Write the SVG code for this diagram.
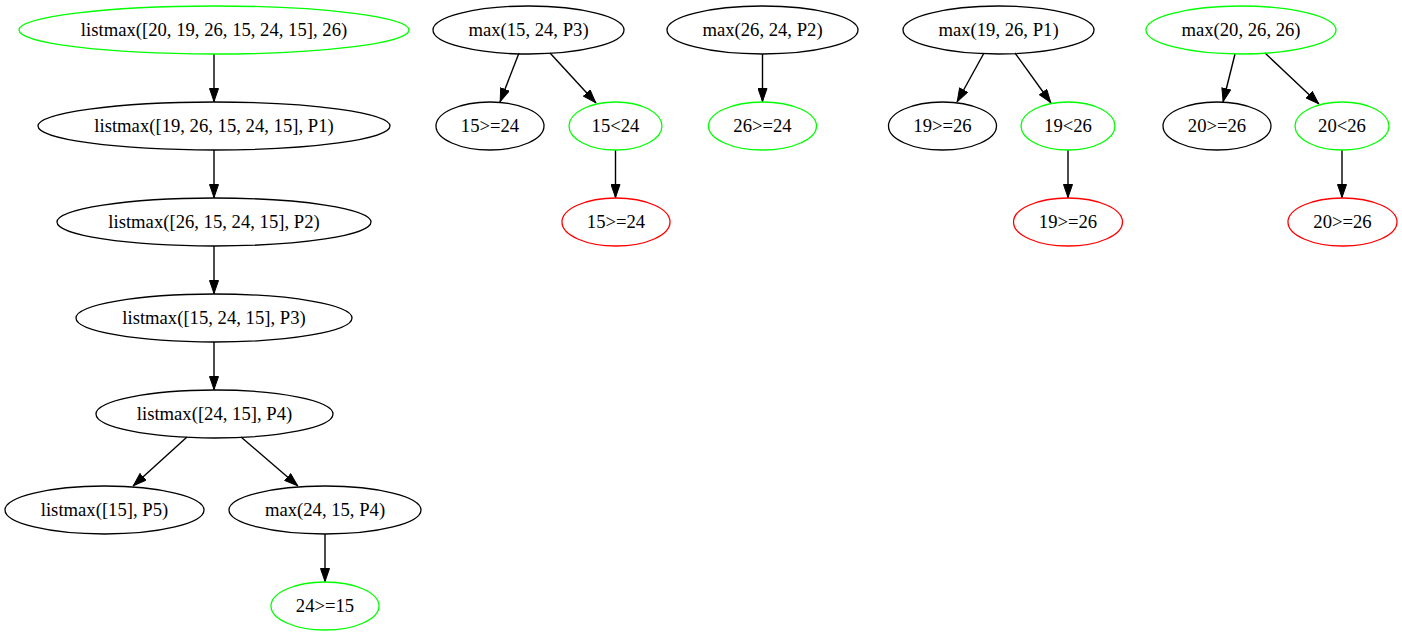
<svg xmlns="http://www.w3.org/2000/svg" width="1402" height="635" viewBox="0 0 1402 635">
<style>
.n ellipse{fill:none;stroke:#000;stroke-width:1.3}
.n.g ellipse{stroke:#00ff00}
.n.r ellipse{stroke:#ff0000}
.n text{font-family:"Liberation Serif","Times New Roman",serif;font-size:18.67px;text-anchor:middle;fill:#000}
.e line{stroke:#000;stroke-width:1.4;marker-end:url(#ah)}
</style>
<defs>
<marker id="ah" viewBox="0 0 14 10" refX="14" refY="5" markerWidth="14" markerHeight="10" markerUnits="userSpaceOnUse" orient="auto">
<path d="M0.5,0.5 L13.5,5 L0.5,9.5 z" fill="#000" stroke="#000" stroke-width="1"/>
</marker>
</defs>
<rect width="1402" height="635" fill="#fff"/>
<g id="edges" class="e">
<line x1="214" y1="54" x2="214" y2="102"/>
<line x1="214" y1="150" x2="214" y2="198"/>
<line x1="214" y1="246" x2="214" y2="294"/>
<line x1="214" y1="342" x2="214" y2="390"/>
<line x1="187" y1="437" x2="133" y2="486"/>
<line x1="241" y1="437" x2="298" y2="486"/>
<line x1="325" y1="534" x2="325" y2="582"/>
<line x1="519" y1="53" x2="500" y2="102"/>
<line x1="550" y1="53" x2="596" y2="103"/>
<line x1="615.5" y1="150" x2="615.5" y2="198"/>
<line x1="762.5" y1="54" x2="762.5" y2="102"/>
<line x1="984" y1="53" x2="957" y2="102"/>
<line x1="1015" y1="53" x2="1051" y2="103"/>
<line x1="1068" y1="150" x2="1068" y2="198"/>
<line x1="1235" y1="54" x2="1223" y2="102"/>
<line x1="1265" y1="53" x2="1319" y2="104"/>
<line x1="1342" y1="150" x2="1342" y2="198"/>
</g>
<g id="n1" class="n g"><ellipse cx="214" cy="30" rx="195" ry="24"/><text x="214" y="36">listmax([20, 19, 26, 15, 24, 15], 26)</text></g>
<g id="n2" class="n"><ellipse cx="214" cy="126" rx="176" ry="24"/><text x="214" y="132">listmax([19, 26, 15, 24, 15], P1)</text></g>
<g id="n3" class="n"><ellipse cx="214" cy="222" rx="157" ry="24"/><text x="214" y="228">listmax([26, 15, 24, 15], P2)</text></g>
<g id="n4" class="n"><ellipse cx="214" cy="318" rx="138" ry="24"/><text x="214" y="324">listmax([15, 24, 15], P3)</text></g>
<g id="n5" class="n"><ellipse cx="214.5" cy="414" rx="118.5" ry="24"/><text x="214.5" y="420">listmax([24, 15], P4)</text></g>
<g id="n6" class="n"><ellipse cx="104.5" cy="510" rx="99.5" ry="24"/><text x="104.5" y="516">listmax([15], P5)</text></g>
<g id="n7" class="n"><ellipse cx="325" cy="510" rx="96" ry="24"/><text x="325" y="516">max(24, 15, P4)</text></g>
<g id="n8" class="n g"><ellipse cx="325" cy="606" rx="54" ry="24"/><text x="325" y="612">24&gt;=15</text></g>
<g id="n9" class="n"><ellipse cx="528.5" cy="30" rx="95.5" ry="24"/><text x="528.5" y="36">max(15, 24, P3)</text></g>
<g id="n10" class="n"><ellipse cx="490" cy="126" rx="54" ry="24"/><text x="490" y="132">15&gt;=24</text></g>
<g id="n11" class="n g"><ellipse cx="615.5" cy="126" rx="46.5" ry="24"/><text x="615.5" y="132">15&lt;24</text></g>
<g id="n12" class="n r"><ellipse cx="616" cy="222" rx="54" ry="24"/><text x="616" y="228">15&gt;=24</text></g>
<g id="n13" class="n"><ellipse cx="762.5" cy="30" rx="95.5" ry="24"/><text x="762.5" y="36">max(26, 24, P2)</text></g>
<g id="n14" class="n g"><ellipse cx="762.5" cy="126" rx="54" ry="24"/><text x="762.5" y="132">26&gt;=24</text></g>
<g id="n15" class="n"><ellipse cx="998.5" cy="30" rx="95.5" ry="24"/><text x="998.5" y="36">max(19, 26, P1)</text></g>
<g id="n16" class="n"><ellipse cx="942.5" cy="126" rx="54" ry="24"/><text x="942.5" y="132">19&gt;=26</text></g>
<g id="n17" class="n g"><ellipse cx="1068" cy="126" rx="47" ry="24"/><text x="1068" y="132">19&lt;26</text></g>
<g id="n18" class="n r"><ellipse cx="1068" cy="222" rx="54.5" ry="24"/><text x="1068" y="228">19&gt;=26</text></g>
<g id="n19" class="n g"><ellipse cx="1241" cy="30" rx="95" ry="24"/><text x="1241" y="36">max(20, 26, 26)</text></g>
<g id="n20" class="n"><ellipse cx="1217" cy="126" rx="54" ry="24"/><text x="1217" y="132">20&gt;=26</text></g>
<g id="n21" class="n g"><ellipse cx="1342" cy="126" rx="47" ry="24"/><text x="1342" y="132">20&lt;26</text></g>
<g id="n22" class="n r"><ellipse cx="1342.5" cy="222" rx="54.5" ry="24"/><text x="1342.5" y="228">20&gt;=26</text></g>
</svg>
